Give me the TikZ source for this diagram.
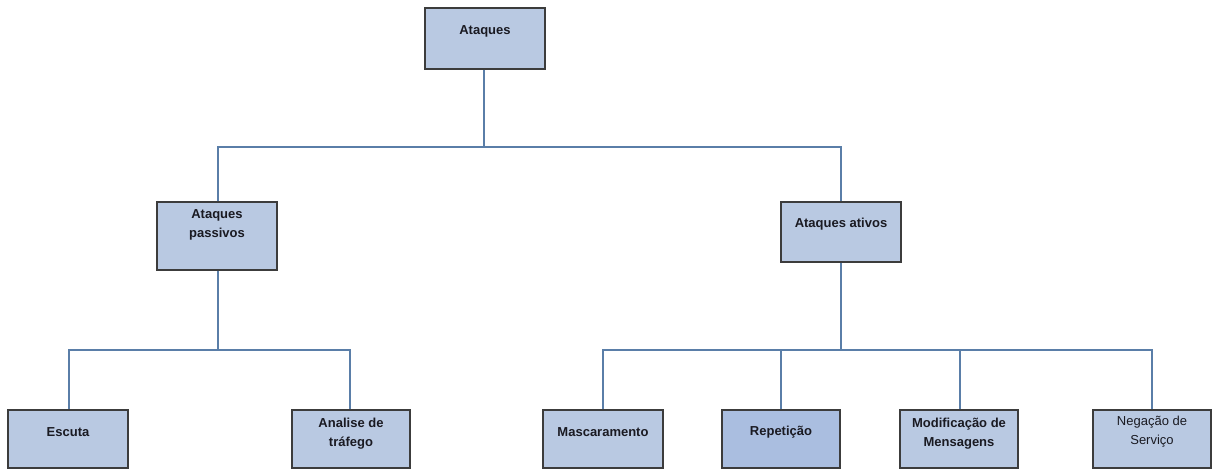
\documentclass[tikz,border=0pt]{standalone}
\usepackage{fontspec}
\setmainfont{Liberation Sans}
\definecolor{boxfill}{HTML}{B9C9E2}
\definecolor{boxfilldark}{HTML}{AABEE0}
\definecolor{boxline}{HTML}{3C3C3C}
\definecolor{wire}{HTML}{5A7EA8}
\definecolor{ink}{HTML}{1A1A22}
\begin{document}
\begin{tikzpicture}[x=1pt,y=-1pt,
  box/.style={draw=boxline,fill=boxfill,line width=1.3pt,inner sep=0pt},
  lbl/.style={align=center,font=\fontsize{13}{19}\selectfont\bfseries,text=ink},
  lblplain/.style={align=center,font=\fontsize{13}{19}\selectfont,text=ink},
  wireline/.style={draw=wire,line width=1.2pt}]
\useasboundingbox (0,0) rectangle (1212,469);

% boxes: centre and size
\node[box,minimum width=120,minimum height=61] (root) at (485,38.5) {};
\node[box,minimum width=120,minimum height=68] (pas) at (217,236) {};
\node[box,minimum width=120,minimum height=60] (atv) at (841,232) {};
\node[box,minimum width=120,minimum height=58] (esc) at (68,439) {};
\node[box,minimum width=118,minimum height=58] (ana) at (351,439) {};
\node[box,minimum width=120,minimum height=58] (mas) at (603,439) {};
\node[box,fill=boxfilldark,minimum width=118,minimum height=58] (rep) at (781,439) {};
\node[box,minimum width=118,minimum height=58] (mod) at (959,439) {};
\node[box,minimum width=118,minimum height=58] (neg) at (1152,439) {};

% labels, set near the top of each box
\node[lbl] (troot) at ([yshift=-24.5pt]root.north) {Ataques};
\node[lbl] (tpas) at ([yshift=-24pt]pas.north) {Ataques\\passivos};
\node[lbl] (tatv) at ([yshift=-22.5pt]atv.north) {Ataques ativos};
\node[lbl] (tesc) at ([yshift=-23pt]esc.north) {Escuta};
\node[lbl] (tana) at ([yshift=-24pt]ana.north) {Analise de\\tráfego};
\node[lbl] (tmas) at ([yshift=-23pt]mas.north) {Mascaramento};
\node[lbl] (trep) at ([yshift=-23pt]rep.north) {Repetição};
\node[lbl] (tmod) at ([yshift=-24pt]mod.north) {Modificação de\\Mensagens};
\node[lblplain] (tneg) at ([yshift=-22pt]neg.north) {Negação de\\Serviço};

% bus junctions
\coordinate (j1) at (484,147);
\coordinate (j2) at (218,350);
\coordinate (j3) at (841,350);

% tree connectors
\draw[wireline] (root.south -| j1) -- (j1);
\draw[wireline] ([xshift=1pt]pas.north) |- (j1) -| (atv.north);
\draw[wireline] ([xshift=1pt]pas.south) -- (j2);
\draw[wireline] ([xshift=1pt]esc.north) |- (j2) -| ([xshift=-1pt]ana.north);
\draw[wireline] (atv.south) -- (j3);
\draw[wireline] (mas.north) |- (j3) -| (neg.north);
\draw[wireline] (rep.north) -- (rep.north |- j3);
\draw[wireline] ([xshift=1pt]mod.north) -- ([xshift=1pt]mod.north |- j3);
\end{tikzpicture}
\end{document}
